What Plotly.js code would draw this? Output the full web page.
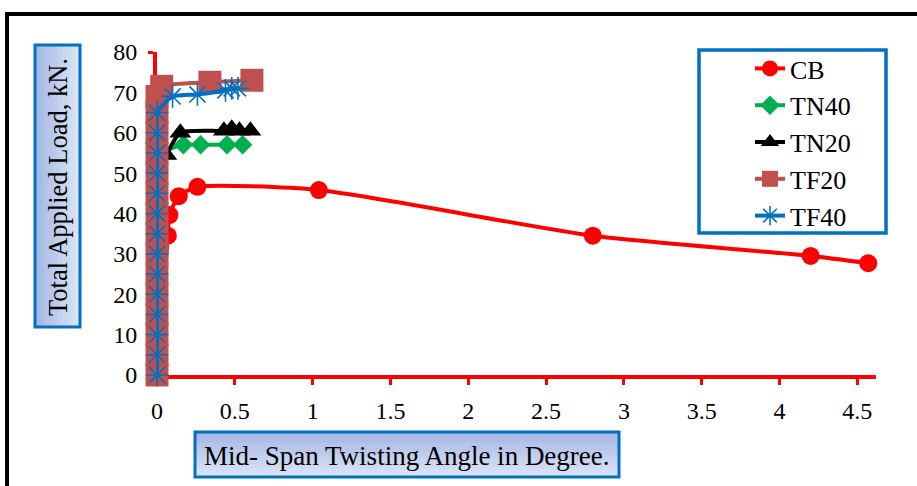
<!DOCTYPE html>
<html>
<head>
<meta charset="utf-8">
<script src="https://cdn.plot.ly/plotly-3.0.1.min.js"></script>
<style>
  html, body { margin: 0; padding: 0; background: #fff; }
  #chart { width: 917px; height: 486px; }
</style>
</head>
<body>
<div id="chart"></div>
<script>
// ---- data ----
const seriesNames = ["CB", "TN40", "TN20", "TF20", "TF40"];

const cbX = [0, 0.07, 0.08, 0.14, 0.26, 1.04, 2.8, 4.2, 4.57];
const cbY = [0, 34.5, 39.6, 44.3, 46.6, 45.8, 34.5, 29.5, 27.7];

const tn40X = [0, 0, 0, 0, 0, 0, 0.03, 0.17, 0.28, 0.45, 0.55];
const tn40Y = [0, 10, 20, 30, 40, 50, 55, 57, 57, 57, 57];

const tn20X = [0, 0, 0, 0, 0, 0, 0.06, 0.15, 0.43, 0.48, 0.53, 0.6];
const tn20Y = [0, 10, 20, 30, 40, 50, 54.5, 60, 60.5, 61, 60.5, 60.5];

const tf20X = [0, 0, 0, 0, 0, 0, 0, 0, 0, 0, 0, 0, 0, 0, 0, 0.03, 0.34, 0.61];
const tf20Y = [0, 5, 10, 15, 20, 25, 30, 35, 40, 45, 50, 55, 60, 65, 69, 71.5, 72.5, 73];

const tf40X = [0, 0, 0, 0, 0, 0, 0, 0, 0, 0, 0, 0, 0, 0, 0.1, 0.26, 0.44, 0.48, 0.52];
const tf40Y = [0, 5, 10, 15, 20, 25, 30, 35, 40, 45, 50, 55, 60, 65, 69, 69.5, 70.5, 71, 71];

const xTicks = [0, 0.5, 1, 1.5, 2, 2.5, 3, 3.5, 4, 4.5];
const xTickText = ["0", "0.5", "1", "1.5", "2", "2.5", "3", "3.5", "4", "4.5"];
const yTicks = [0, 10, 20, 30, 40, 50, 60, 70, 80];

const xTitle = "Mid- Span Twisting Angle in Degree.";
const yTitle = "Total Applied Load, kN.";

// ---- layout geometry (pixels) ----
const W = 917, H = 486;
const mL = 157, mR = 41, mT = 52, mB = 111;
const pw = W - mL - mR, ph = H - mT - mB;
const px = v => (v - mL) / pw;          // pixel x -> paper x
const py = v => (H - mB - v) / ph;      // pixel y -> paper y

const FONT = "'Liberation Serif'";

const colors = ["#FF0000", "#00B050", "#000000", "#C0504D", "#0070C0"];
const symbols = ["circle", "diamond", "triangle-up", "square", "asterisk-open"];
const sizes = [18, 15, 19, 23, 19];

const xs = [cbX, tn40X, tn20X, tf20X, tf40X];
const ys = [cbY, tn40Y, tn20Y, tf20Y, tf40Y];

const traces = seriesNames.map((n, i) => ({
  type: "scatter",
  mode: "lines+markers",
  name: n,
  x: xs[i],
  y: ys[i],
  cliponaxis: false,
  line: { color: colors[i], width: 4, shape: "spline", smoothing: 0.6 },
  marker: {
    symbol: symbols[i],
    size: sizes[i],
    color: colors[i],
    line: { color: colors[i], width: i === 4 ? 1.6 : 0 }
  }
}));

// gradient boxes via stripes
function gradBox(x0, y0, x1, y1, c0, c1, vertical, n) {
  const out = [];
  const lerp = (a, b, t) => Math.round(a + (b - a) * t);
  const hex = c => [1, 3, 5].map(k => parseInt(c.substr(k, 2), 16));
  const A = hex(c0), B = hex(c1);
  for (let k = 0; k < n; k++) {
    const t = k / (n - 1);
    const col = `rgb(${lerp(A[0], B[0], t)},${lerp(A[1], B[1], t)},${lerp(A[2], B[2], t)})`;
    let sx0, sx1, sy0, sy1;
    if (vertical) {
      sx0 = x0; sx1 = x1;
      sy0 = y0 + (y1 - y0) * k / n; sy1 = y0 + (y1 - y0) * (k + 1) / n + 0.5;
    } else {
      sy0 = y0; sy1 = y1;
      sx0 = x0 + (x1 - x0) * k / n; sx1 = x0 + (x1 - x0) * (k + 1) / n + 0.5;
    }
    out.push({ type: "rect", xref: "paper", yref: "paper",
      x0: px(sx0), x1: px(sx1), y0: py(sy0), y1: py(sy1),
      fillcolor: col, line: { width: 0 }, layer: "above" });
  }
  out.push({ type: "rect", xref: "paper", yref: "paper",
    x0: px(x0), x1: px(x1), y0: py(y0), y1: py(y1),
    fillcolor: "rgba(0,0,0,0)", line: { color: "#0070C0", width: 3 }, layer: "above" });
  return out;
}

const shapes = [
  // outer frame
  { type: "rect", xref: "paper", yref: "paper",
    x0: px(7), x1: px(960), y0: py(14), y1: py(560),
    fillcolor: "rgba(0,0,0,0)", line: { color: "#000", width: 4 }, layer: "above" },
  // legend box
  { type: "rect", xref: "paper", yref: "paper",
    x0: px(699), x1: px(886), y0: py(50), y1: py(233),
    fillcolor: "#ffffff", line: { color: "#0070C0", width: 3.5 }, layer: "below" },
  ...gradBox(35, 45, 80, 327, "#A3B6E3", "#DCE4F5", false, 24),
  ...gradBox(195, 432, 619, 477, "#A3B6E3", "#DCE4F5", true, 24)
];

const layout = {
  width: W, height: H,
  margin: { l: mL, r: mR, t: mT, b: mB },
  paper_bgcolor: "#fff",
  plot_bgcolor: "#fff",
  font: { family: FONT, size: 22, color: "#000" },
  showlegend: true,
  legend: {
    x: px(750), y: py(45), xanchor: "left", yanchor: "top",
    bgcolor: "rgba(0,0,0,0)", borderwidth: 0,
    font: { family: FONT, size: 26, color: "#000" },
    itemwidth: 30
  },
  xaxis: {
    range: [0, 4.62],
    tickvals: xTicks, ticktext: xTickText,
    showgrid: false, zeroline: false,
    showline: true, linecolor: "#FF0000", linewidth: 4,
    layer: "below traces",
    ticks: "outside", tickcolor: "#FF0000", tickwidth: 3, ticklen: 6,
    ticklabelstandoff: 5,
    tickfont: { family: FONT, size: 24, color: "#000" }
  },
  yaxis: {
    range: [0, 80],
    tickvals: yTicks,
    showgrid: false, zeroline: false,
    showline: true, linecolor: "#FF0000", linewidth: 4,
    layer: "below traces",
    ticks: "outside", tickcolor: "#FF0000", tickwidth: 3, ticklen: 5,
    ticklabelstandoff: 6,
    tickfont: { family: FONT, size: 24, color: "#000" }
  },
  shapes: shapes,
  annotations: [
    { xref: "paper", yref: "paper", x: px(58), y: py(187), text: yTitle,
      showarrow: false, textangle: -90, xanchor: "center", yanchor: "middle",
      font: { family: FONT, size: 26.5, color: "#000" } },
    { xref: "paper", yref: "paper", x: px(407), y: py(456), text: xTitle,
      showarrow: false, xanchor: "center", yanchor: "middle",
      font: { family: FONT, size: 27, color: "#000" } }
  ]
};

Plotly.newPlot("chart", traces, layout, { displayModeBar: false, staticPlot: true });
</script>
</body>
</html>
